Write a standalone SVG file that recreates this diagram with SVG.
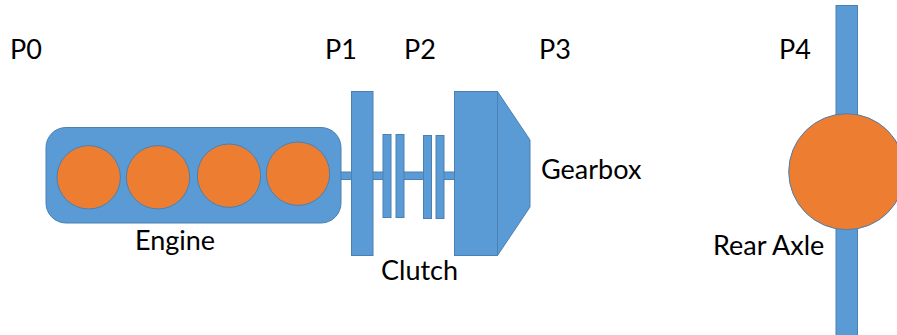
<svg xmlns="http://www.w3.org/2000/svg" width="897" height="335" viewBox="0 0 897 335">
<style>
.b{fill:#5b9bd5;stroke:#4a80b2;stroke-width:1}
.o{fill:#ed7d31;stroke:#4a80b2;stroke-width:1}
text{font-family:Lato,"Open Sans","Liberation Sans",sans-serif;font-size:27px;fill:#000}
</style>
<rect width="897" height="335" fill="#fff"/>
<g id="connectors">
<rect class="b" x="340" y="172" width="12" height="7.5"/>
<rect class="b" x="372" y="172" width="12" height="7.5"/>
<rect class="b" x="403" y="172" width="21" height="7.5"/>
<rect class="b" x="443" y="172" width="12" height="7.5"/>
</g>
<g id="engine">
<rect class="b" x="46" y="127.5" width="295" height="95.5" rx="20"/>
<circle class="o" cx="88.7" cy="177.3" r="31.7"/>
<circle class="o" cx="158" cy="177.3" r="31.7"/>
<circle class="o" cx="229" cy="175.7" r="31.7"/>
<circle class="o" cx="298" cy="173.7" r="31.7"/>
<text x="135" y="250">Engine</text>
</g>
<g id="p1-plate"><rect class="b" x="351.500" y="91.500" width="21.500" height="164"/></g>
<g id="clutch">
<rect class="b" x="383" y="134.500" width="8" height="83"/>
<rect class="b" x="396" y="134.500" width="8" height="83"/>
<rect class="b" x="423.500" y="135.500" width="8" height="83"/>
<rect class="b" x="436" y="135.500" width="8" height="83"/>
<text x="381" y="280">Clutch</text>
</g>
<g id="gearbox">
<rect class="b" x="454.500" y="91.500" width="43" height="164"/>
<polygon class="b" points="497.500,91.500 530,140 530,207 497.500,255.500"/>
<text x="541" y="179">Gearbox</text>
</g>
<g id="rear-axle">
<rect class="b" x="836" y="5.500" width="21.500" height="335"/>
<circle class="o" cx="846.700" cy="171.700" r="58"/>
<text x="713" y="255">Rear Axle</text>
</g>
<g id="labels">
<text x="10" y="59">P0</text>
<text x="325" y="59">P1</text>
<text x="404" y="59">P2</text>
<text x="539" y="59">P3</text>
<text x="779" y="59">P4</text>
</g>
</svg>
